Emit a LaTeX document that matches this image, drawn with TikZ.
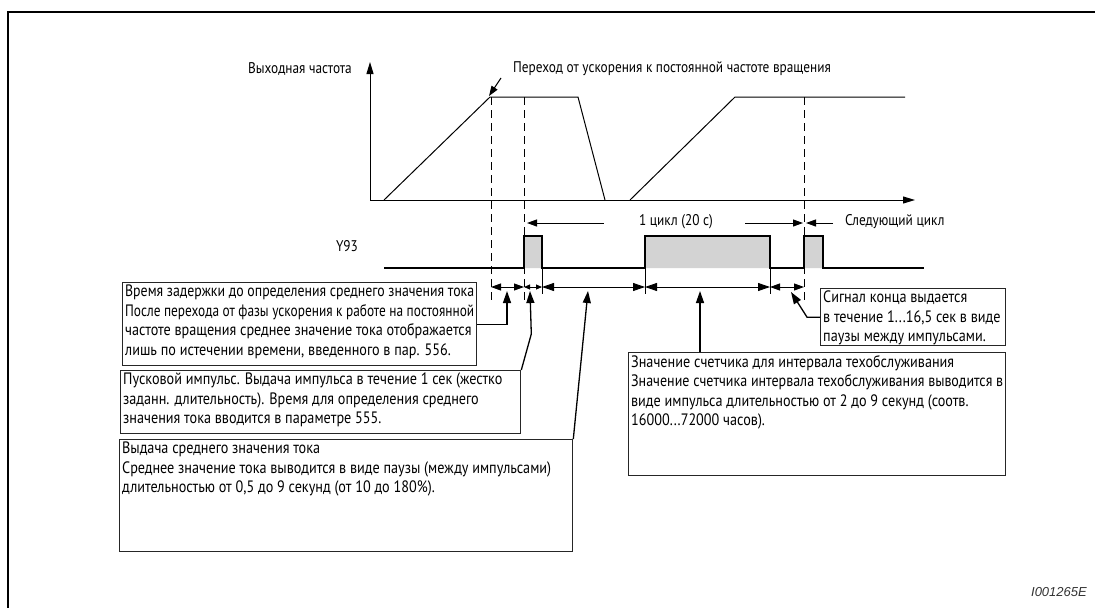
\documentclass[tikz,border=0pt]{standalone}
\usepackage{fontspec}
\usepackage{graphicx}
\setmainfont{PT Sans}[FakeStretch=0.86,Scale=1.1]
\newfontfamily\labelfont{PT Sans}[FakeStretch=0.86,Scale=1.03]
\newfontfamily\idfont{Liberation Sans}
\usetikzlibrary{arrows.meta,positioning}
\definecolor{pulsegray}{HTML}{D3D3D3}
\newcommand{\notetext}[3]{\parbox[t][#2][t]{#1}{\raggedright #3}}
% shrink a line to the box width when it is too long
\newcommand{\fitline}[1]{\sbox0{#1}\ifdim\wd0>\linewidth\resizebox{\linewidth}{\height}{\usebox0}\else\usebox0\fi}

\begin{document}
\begin{tikzpicture}[x=1pt,y=-1pt,>={Triangle[length=10pt,width=7pt]},
  txt/.style={inner sep=0pt,font=\labelfont\fontsize{15}{19.5}\selectfont},
  note/.style={draw=black!85,line width=1.3pt,inner sep=2.5pt,anchor=north west,font=\fontsize{15}{19.5}\selectfont},
  lead/.style={->,line width=1.3pt,>={Triangle[length=12pt,width=8pt]}},
  dim/.style={<->,line width=0.9pt},
  smalldim/.style={dim,>={Triangle[length=6pt,width=5pt]}},
  guide/.style={line width=0.9pt,dash pattern=on 8pt off 5pt}]
  \useasboundingbox (0,0) rectangle (1095,608);
  \draw[line width=2pt] (1095,12) -- (8,12) -- (8,608);

  % axes and output frequency
  \draw[<->,line width=1pt,>={Triangle[length=12pt,width=7pt]}] (370,62) -- (370,200) -- (915,200);
  \node[txt,anchor=east] (freq) at (352,69) {Выходная частота};
  \node[txt,anchor=west] (trans) at (513,69) {Переход от ускорения к постоянной частоте вращения};
  \coordinate (ramptop) at (489,96);
  \draw[->,line width=1pt] ([shift={(-12,9)}]trans.west) -- (ramptop);
  \draw[line width=1pt] (384,200) -- (490,97) -- (578,97) -- (605,200);
  \draw[line width=1pt] (630,200) -- (735,97) -- (905,97);
  \foreach \x in {491,524,804}
    \draw[guide] (\x,97) -- (\x,300);

  % Y93 signal
  \node[txt] (y93) at (347,246) {Y93};
  \fill[pulsegray] (524,236) rectangle (542,268) (645,236) rectangle (770,268) (804,236) rectangle (823,268);
  \draw[line width=1.2pt] (384,268) -- (524,268) -- (524,236) -- (542,236) -- (542,268) -- (645,268)
    -- (645,236) -- (770,236) -- (770,268) -- (804,268) -- (804,236) -- (823,236) -- (823,268) -- (924,268);
  \foreach \x in {542,645,770}
    \draw[line width=0.9pt] (\x,268) -- (\x,294);

  % cycle
  \node[txt] (cycle) at (676,222) {1 цикл (20 с)};
  \node[txt,anchor=west] (next) at (845,222) {Следующий цикл};
  \coordinate (cyclestart) at (527,223);
  \coordinate (cycleend) at (803,223);
  \coordinate (nextstart) at (806,223);
  \draw[->,line width=1pt] ([xshift=-35pt,yshift=-1pt]cycle.west) -- (cyclestart);
  \draw[->,line width=1pt] ([xshift=32pt,yshift=-1pt]cycle.east) -- (cycleend);
  \draw[->,line width=1pt] ([xshift=-12pt,yshift=-1pt]next.west) -- (nextstart);

  % intervals
  \draw[dim] (491,287) -- (524,287);
  \draw[smalldim] (524,287) -- (542,287);
  \draw[dim,>={Triangle[length=12pt,width=8pt]}] (542,287) -- (645,287);
  \draw[dim,>={Triangle[length=12pt,width=8pt]}] (645,287) -- (770,287);
  \draw[dim] (770,287) -- (804,287);
  \coordinate (delayp) at (507,291);
  \coordinate (startp) at (530,291);
  \coordinate (avgp) at (588,291);
  \coordinate (cntp) at (700,291);
  \coordinate (endp) at (791,292);

  % notes
  \node[note] (delay) at (122,282) {\notetext{349pt}{78pt}{\fitline{Время задержки до определения среднего значения тока}\\
    \resizebox{\linewidth}{\height}{После перехода от фазы ускорения к работе на постоянной}\\
    \fitline{частоте вращения среднее значение тока отображается}\\
    \fitline{лишь по истечении времени, введенного в пар. 556.}}};
  \node[note] (start) at (120,370) {\notetext{395pt}{58pt}{\fitline{Пусковой импульс. Выдача импульса в течение 1 сек (жестко}\\
    \fitline{заданн. длительность). Время для определения среднего}\\
    \fitline{значения тока вводится в параметре 555.}}};
  \node[note] (avg) at (119,439) {\notetext{448pt}{107pt}{\fitline{Выдача среднего значения тока}\\
    \fitline{Среднее значение тока выводится в виде паузы (между импульсами)}\\
    \fitline{длительностью от 0,5 до 9 секунд (от 10 до 180\%).}}};
  \node[note] (count) at (628,352) {\notetext{372pt}{118pt}{\fitline{Значение счетчика для интервала техобслуживания}\\
    \fitline{Значение счетчика интервала техобслуживания выводится в}\\
    \fitline{виде импульса длительностью от 2 до 9 секунд (соотв.}\\
    \fitline{16000...72000 часов).}}};
  \node[note] (endsig) at (820,288) {\notetext{180pt}{52pt}{\fitline{Сигнал конца выдается}\\
    \fitline{в течение 1...16,5 сек в виде}\\
    \fitline{паузы между импульсами.}}};

  \draw[lead] (delay.east) -| (delayp);
  \draw[lead] (start.north east) -- ++(10,-36) -- (startp);
  \draw[lead] (avg.north east) -- (avgp);
  \draw[lead] (count.north -| cntp) -- (cntp);
  \draw[lead] (endsig.west) -- ++(-13,0) -- (endp);

  \node[anchor=east,inner sep=0pt,font=\idfont\itshape\fontsize{13}{13}\selectfont,black!80] (figid) at (1087,592) {I001265E};
\end{tikzpicture}
\end{document}
